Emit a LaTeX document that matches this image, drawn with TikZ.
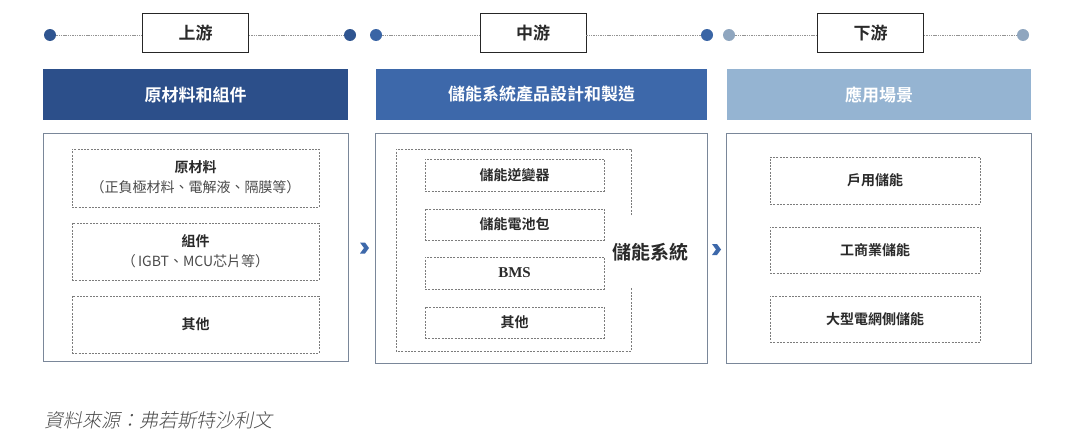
\documentclass[tikz,border=0pt]{standalone}
\usepackage{fontspec}
\setmainfont{Liberation Serif}
\newfontfamily\cjk{Noto Sans CJK TC}
\newfontfamily\cjkb{Noto Sans CJK TC Bold}
\newfontfamily\cjki[FakeSlant=0.2]{Noto Sans CJK TC Light}
\definecolor{navy}{HTML}{2C4F8A}
\definecolor{midblue}{HTML}{3D68AA}
\definecolor{lightblue}{HTML}{95B4D2}
\definecolor{dotL}{HTML}{2F5590}
\definecolor{dotM}{HTML}{3A65A5}
\definecolor{dotR}{HTML}{8FA6BF}
\definecolor{frame}{HTML}{7A8799}
\definecolor{dash}{HTML}{7C7C7C}
\definecolor{txt}{HTML}{2A2A2A}
\begin{document}
\begin{tikzpicture}[x=1pt,y=-1pt,
  stagebox/.style={draw=black!85,line width=0.9pt,fill=white,minimum width=106pt,minimum height=39pt,inner sep=0pt,font=\cjkb\fontsize{17}{17}\selectfont,text=txt},
  header/.style={minimum height=51pt,inner sep=0pt,font=\cjkb\fontsize{17}{17}\selectfont,text=white},
  panel/.style={draw=frame,line width=0.9pt,inner sep=0pt},
  dbox/.style={draw=dash,dash pattern=on 2pt off 1.3pt,line width=0.8pt,inner sep=0pt,font=\cjkb\fontsize{14}{14}\selectfont,text=txt,align=center},
  tl/.style={draw=gray!85,dash pattern=on 1.4pt off 0.9pt,line width=1pt},
  dot/.style={circle,inner sep=0pt,minimum size=12pt}
]
\useasboundingbox[fill=white] (0,0) rectangle (1080,447);

% ---------- timelines ----------
\node[dot,fill=dotL] (d1a) at (50,35) {};
\node[dot,fill=dotL] (d1b) at (350,35) {};
\node[stagebox] (s1) at (195.5,32.5) {上游};
\draw[tl] (d1a) -- (d1a -| s1.west);
\draw[tl] (d1b -| s1.east) -- (d1b);

\node[dot,fill=dotM] (d2a) at (376,35) {};
\node[dot,fill=dotM] (d2b) at (707,35) {};
\node[stagebox] (s2) at (533,32.5) {中游};
\draw[tl] (d2a) -- (d2a -| s2.west);
\draw[tl] (d2b -| s2.east) -- (d2b);

\node[dot,fill=dotR] (d3a) at (729,35) {};
\node[dot,fill=dotR] (d3b) at (1023,35) {};
\node[stagebox] (s3) at (870.5,32.5) {下游};
\draw[tl] (d3a) -- (d3a -| s3.west);
\draw[tl] (d3b -| s3.east) -- (d3b);

% ---------- headers ----------
\node[header,fill=navy,minimum width=305pt] (h1) at (195.5,94.5) {原材料和組件};
\node[header,fill=midblue,minimum width=331pt] (h2) at (541.5,94.5) {儲能系統產品設計和製造};
\node[header,fill=lightblue,minimum width=304pt] (h3) at (879,94.5) {應用場景};

% ---------- panels ----------
\node[panel,minimum width=305pt,minimum height=228pt] (p1) at (195.5,247) {};
\node[panel,minimum width=332pt,minimum height=230pt] (p2) at (541,248) {};
\node[panel,minimum width=305pt,minimum height=230pt] (p3) at (878.5,248) {};

% left boxes
\node[dbox,minimum width=247pt,minimum height=58pt] (l1) at (195.5,178) {};
\node[font=\cjkb\fontsize{14}{14}\selectfont,text=txt] (l1a) at (195.5,167) {原材料};
\node[font=\cjk\fontsize{14}{14}\selectfont,text=txt!85] (l1b) at (195.5,187) {（正負極材料、電解液、隔膜等）};
\node[dbox,minimum width=247pt,minimum height=57pt] (l2) at (195.5,251.5) {};
\node[font=\cjkb\fontsize{14}{14}\selectfont,text=txt] (l2a) at (195.5,241) {組件};
\node[font=\cjk\fontsize{14}{14}\selectfont,text=txt!85] (l2b) at (195.5,261) {（\,IGBT、MCU芯片等）};
\node[dbox,minimum width=247pt,minimum height=57pt] (l3) at (195.5,324.5) {其他};

% middle
\coordinate (bt) at (631,215);
\coordinate (bb) at (631,288);
\draw[draw=dash,dash pattern=on 2pt off 1.3pt,line width=0.8pt]
  (bt) -- (631,149) -- (396,149) -- (396,351) -- (631,351) -- (bb);
\node[font=\cjkb\fontsize{19}{19}\selectfont,text=txt] (sys) at (650,252) {儲能系統};
\node[dbox,minimum width=179pt,minimum height=32pt] (m1) at (514.5,175) {儲能逆變器};
\node[dbox,minimum width=179pt,minimum height=31pt] (m2) at (514.5,224.5) {儲能電池包};
\node[dbox,minimum width=179pt,minimum height=32pt,font=\bfseries\fontsize{15}{15}\selectfont] (m3) at (514.5,273) {BMS};
\node[dbox,minimum width=179pt,minimum height=31pt] (m4) at (514.5,322.5) {其他};

% right
\node[dbox,minimum width=210pt,minimum height=47pt] (r1) at (875,180.5) {戶用儲能};
\node[dbox,minimum width=210pt,minimum height=46pt] (r2) at (875,250) {工商業儲能};
\node[dbox,minimum width=210pt,minimum height=46pt] (r3) at (875,319) {大型電網側儲能};

% chevrons
\fill[midblue] (360,242.5) -- (365,242.5) -- (369,248) -- (365,253.5) -- (360,253.5) -- (364,248) -- cycle;
\fill[midblue] (712,244) -- (717,244) -- (721,249.5) -- (717,255) -- (712,255) -- (716,249.5) -- cycle;

% source
\node[anchor=west,font=\cjki\fontsize{19}{19}\selectfont,text=black!70,inner sep=0pt] (src) at (44,420) {資料來源：弗若斯特沙利文};
\end{tikzpicture}
\end{document}
